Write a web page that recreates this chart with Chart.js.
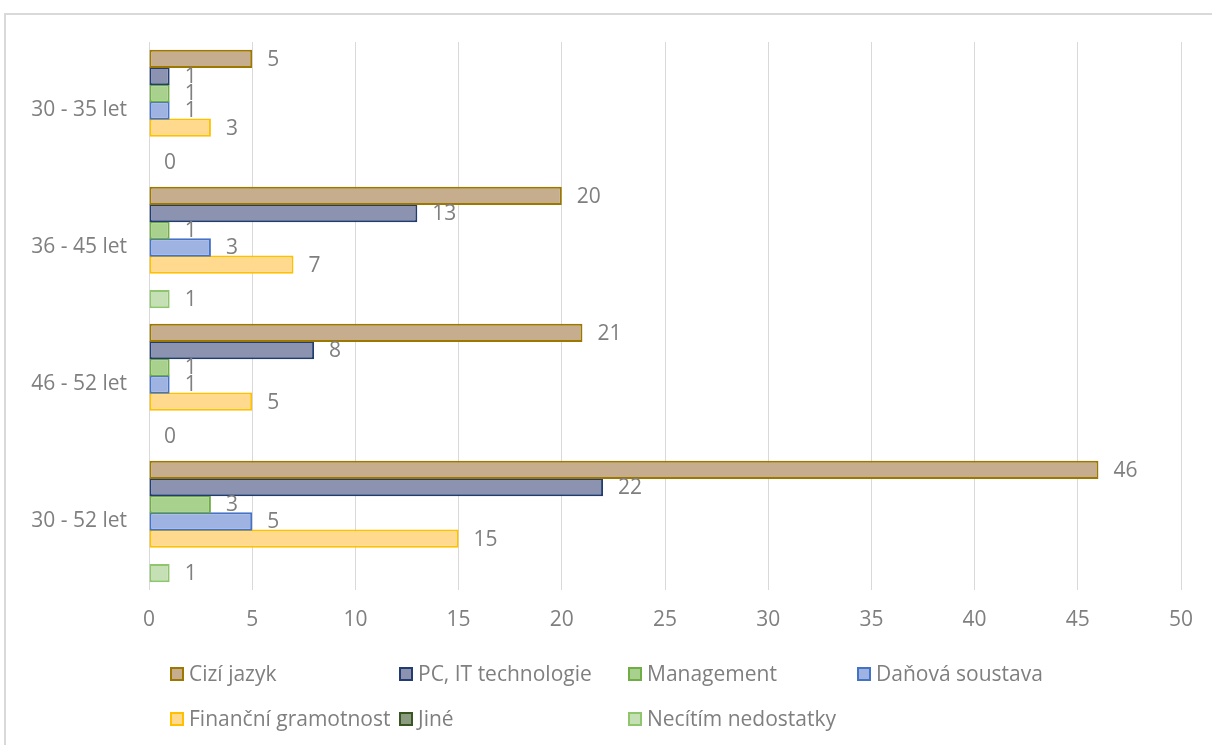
<!DOCTYPE html>
<html>
<head>
<meta charset="utf-8">
<script src="https://cdn.jsdelivr.net/npm/chart.js@4"></script>
<style>
  html, body { margin: 0; padding: 0; background: #fff; overflow: hidden; }
  #frame {
    position: absolute; left: 4px; top: 13px; width: 1240px; height: 760px;
    border: 2px solid #d9d9d9; box-sizing: border-box;
  }
  #chart { position: absolute; left: 0; top: 0; }
</style>
</head>
<body>
<div id="frame"></div>
<canvas id="chart" width="1212" height="745"></canvas>
<script>
    var categories = ['30 - 35 let', '36 - 45 let', '46 - 52 let', '30 - 52 let'];
    var ciziJazyk = [5, 20, 21, 46];
    var pcIt = [1, 13, 8, 22];
    var management = [1, 1, 1, 3];
    var danovaSoustava = [1, 3, 1, 5];
    var financniGramotnost = [3, 7, 5, 15];
    var jine = [null, null, null, null];
    var necitimNedostatky = [0, 1, 0, 1];
    var xTicks = [0, 5, 10, 15, 20, 25, 30, 35, 40, 45, 50];

    var textColor = '#7f7f7f';
    var fontFamily = '"Open Sans", "Liberation Sans", sans-serif';

    function series(label, data, fill, border) {
        return {
            label: label,
            data: data,
            backgroundColor: fill,
            borderColor: border,
            borderWidth: 2,
            borderSkipped: false,
            barPercentage: 1.06,
            categoryPercentage: 0.88
        };
    }

    // value text just right of each bar end
    var valueLabels = {
        id: 'valueLabels',
        afterDatasetsDraw: function (chart) {
            var ctx = chart.ctx;
            ctx.save();
            ctx.font = '21px ' + fontFamily;
            ctx.fillStyle = textColor;
            ctx.textAlign = 'left';
            ctx.textBaseline = 'middle';
            chart.data.datasets.forEach(function (ds, i) {
                var meta = chart.getDatasetMeta(i);
                meta.data.forEach(function (bar, j) {
                    var v = ds.data[j];
                    if (v === null || v === undefined) return;
                    ctx.fillText(String(v), bar.x + 15, bar.y + 1);
                });
            });
            ctx.restore();
        }
    };

    // legend laid out on a fixed 4-column grid below the axis
    var gridLegend = {
        id: 'gridLegend',
        afterDraw: function (chart) {
            var ctx = chart.ctx;
            var startX = 170, colWidth = 229, rowY = [674, 719], box = 14;
            ctx.save();
            ctx.font = '21px ' + fontFamily;
            ctx.textBaseline = 'middle';
            ctx.textAlign = 'left';
            chart.data.datasets.forEach(function (ds, i) {
                var col = i % 4, row = Math.floor(i / 4);
                var x = startX + col * colWidth;
                var y = rowY[row];
                ctx.fillStyle = ds.backgroundColor;
                ctx.fillRect(x, y - box / 2, box, box);
                ctx.strokeStyle = ds.borderColor;
                ctx.lineWidth = 2;
                ctx.strokeRect(x + 1, y - box / 2 + 1, box - 2, box - 2);
                ctx.fillStyle = textColor;
                ctx.fillText(ds.label, x + box + 5, y + 1);
            });
            ctx.restore();
        }
    };

    var chart = new Chart(document.getElementById('chart'), {
        type: 'bar',
        data: {
            labels: categories,
            datasets: [
                series('Cizí jazyk', ciziJazyk, '#c6ad8e', '#9c7800'),
                series('PC, IT technologie', pcIt, '#8b93b1', '#223c70'),
                series('Management', management, '#a9d18e', '#70ad47'),
                series('Daňová soustava', danovaSoustava, '#9fb3e2', '#4472c4'),
                series('Finanční gramotnost', financniGramotnost, '#ffd98e', '#ffc000'),
                series('Jiné', jine, '#8c9c80', '#385723'),
                series('Necítím nedostatky', necitimNedostatky, '#c5e0b4', '#8fc56d')
            ]
        },
        options: {
            indexAxis: 'y',
            responsive: false,
            devicePixelRatio: 1,
            animation: false,
            layout: {
                padding: { top: 42, right: 31, left: 0, bottom: 105 }
            },
            plugins: {
                legend: { display: false },
                tooltip: { enabled: false }
            },
            scales: {
                x: {
                    min: 0,
                    max: 50,
                    afterBuildTicks: function (scale) {
                        scale.ticks = xTicks.map(function (v) { return { value: v }; });
                    },
                    afterFit: function (scale) { scale.height = 50; },
                    grid: { color: '#d9d9d9', lineWidth: 1, drawTicks: false },
                    border: { display: false },
                    ticks: {
                        padding: 17,
                        color: textColor,
                        font: { family: fontFamily, size: 21 }
                    }
                },
                y: {
                    afterFit: function (scale) { scale.width = 149; },
                    grid: { display: false, drawTicks: false },
                    border: { display: false },
                    ticks: {
                        padding: 22,
                        color: textColor,
                        font: { family: fontFamily, size: 21 }
                    }
                }
            }
        },
        plugins: [valueLabels, gridLegend]
    });
</script>
</body>
</html>
